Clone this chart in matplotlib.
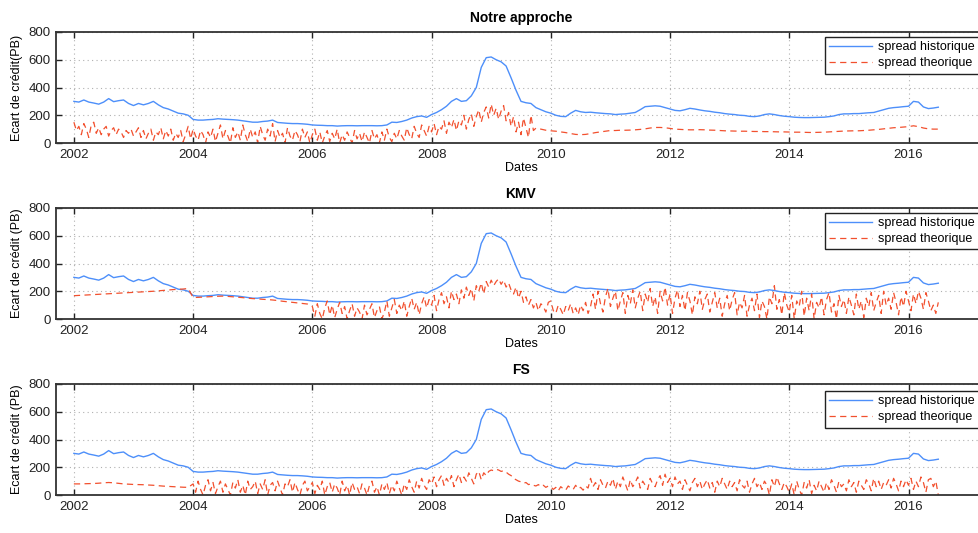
import numpy as np
import matplotlib
matplotlib.use("Agg")
import matplotlib.pyplot as plt

plt.rcParams['font.family'] = ['Liberation Sans', 'DejaVu Sans']

# historical spread, monthly from 2002.0 to 2016.5 (same in all panels)
hist = [300, 295, 310, 295, 288, 280, 295, 320, 298, 305, 310, 285,
        270, 285, 275, 285, 300, 275, 255, 245, 230, 215, 210, 200,
        170, 165, 165, 168, 170, 175, 172, 170, 168, 165, 160, 155,
        150, 150, 155, 158, 165, 148, 145, 142, 140, 140, 138, 135,
        130, 128, 127, 125, 125, 122, 124, 125, 125, 124, 125, 125,
        125, 124, 125, 130, 150, 148, 155, 165, 180, 190, 195, 185,
        205, 220, 240, 265, 300, 320, 300, 305, 340, 400, 545, 615,
        620, 600, 585, 555, 470, 380, 300, 290, 285, 255, 240, 225,
        215, 200, 192, 190, 215, 235, 225, 220, 222, 218, 215, 212,
        210, 205, 208, 210, 215, 220, 240, 262, 265, 268, 265, 255,
        245, 235, 232, 240, 250, 245, 238, 232, 228, 222, 218, 212,
        208, 205, 200, 198, 192, 190, 195, 205, 210, 205, 198, 193,
        190, 186, 184, 183, 183, 184, 185, 186, 190, 195, 205, 210,
        210, 212, 212, 215, 218, 220, 230, 240, 250, 255, 258, 262,
        265, 300, 295, 260, 248, 252, 258]

# Notre approche: semi-monthly noisy part from 2002.0, then monthly smooth part from 2009.75
notre_noisy = [150, 90, 120, 60, 140, 100, 40, 130, 150, 70, 110, 60, 100, 120, 50, 90, 110, 60, 100, 80, 40, 90, 70, 100,
               50, 80, 110, 40, 90, 30, 70, 100, 20, 80, 60, 110, 30, 90, 50, 100, 20, 70, 40, 90, 10, 60, 120, 30,
               100, 50, 20, 90, 60, 0, 80, 40, 100, 10, 70, 130, 30, 90, 50, 0, 110, 40, 80, 20, 130, 60, 10, 100,
               40, 80, 0, 120, 60, 20, 100, 50, 140, 10, 90, 40, 70, 0, 110, 50, 20, 90, 60, 10, 100, 40, 80, 0,
               60, 100, 20, 80, 0, 50, 90, 10, 70, 30, 100, 0, 60, 20, 80, 40, 0, 90, 30, 70, 10, 80, 40, 0,
               90, 30, 60, 0, 80, 20, 100, 40, 10, 70, 30, 90, 50, 20, 110, 60, 30, 120, 70, 40, 130, 90, 50, 120,
               80, 140, 60, 120, 100, 160, 70, 150, 110, 170, 90, 160, 130, 200, 100, 170, 210, 120, 190, 240, 150, 220, 260, 180,
               280, 200, 250, 170, 230, 270, 160, 220, 120, 190, 80, 150, 60, 180, 110, 40, 200, 90]
notre_smooth = [107, 100, 92,
                88, 85, 80, 75, 68, 62, 60, 62, 68, 75, 80, 85,
                90, 90, 92, 92, 93, 95, 98, 102, 108, 112, 112, 110,
                105, 100, 98, 96, 95, 95, 96, 95, 93, 92, 90, 88,
                87, 86, 85, 85, 84, 83, 83, 82, 82, 81, 80, 80,
                79, 78, 78, 77, 76, 76, 77, 78, 80, 82, 84, 86,
                87, 88, 88, 90, 92, 95, 98, 102, 106, 110, 112, 115,
                118, 124, 118, 108, 102, 100, 100]

# KMV: monthly smooth part 2002.0-2005.917, then semi-monthly noisy from 2006.0
kmv_smooth = [168, 170, 172, 174, 176, 178, 180, 182, 184, 186, 188, 190,
              192, 194, 196, 198, 200, 203, 206, 209, 212, 214, 216, 220,
              155, 156, 158, 160, 162, 164, 165, 163, 160, 157, 154, 150,
              147, 145, 142, 140, 137, 133, 128, 124, 120, 116, 112, 108]
kmv_noisy = [90, 20, 110, 40, 0, 80, 130, 30, 100, 10, 70, 120, 40, 90, 0, 60, 110, 20, 80, 50, 0, 100, 30, 70,
             110, 10, 60, 90, 0, 50, 130, 20, 80, 140, 40, 100, 60, 130, 20, 90, 150, 70, 120, 30, 110, 160, 80, 140,
             100, 170, 60, 140, 190, 110, 160, 80, 200, 140, 180, 110, 210, 150, 230, 170, 220, 130, 240, 200, 260, 180, 270, 230,
             280, 240, 270, 290, 250, 280, 230, 260, 210, 180, 230, 150, 200, 120, 160, 100, 140, 80, 120, 60, 110, 90, 50, 120,
             130, 60, 40, 100, 70, 30, 90, 60, 110, 40, 80, 30, 100, 60, 120, 40, 90, 180, 70, 200, 110, 50, 160, 220,
             90, 150, 200, 60, 130, 190, 40, 170, 110, 210, 80, 150, 200, 60, 180, 120, 220, 90, 160, 40, 200, 130, 230, 100,
             180, 40, 150, 210, 90, 170, 60, 190, 130, 30, 160, 110, 200, 70, 140, 180, 50, 120, 190, 80, 150, 20, 110, 170,
             60, 140, 190, 30, 120, 80, 170, 20, 100, 150, 60, 180, 10, 130, 90, 0, 160, 110, 240, 70, 140, 30, 190, 100,
             50, 170, 0, 130, 90, 200, 20, 150, 60, 180, 0, 120, 80, 160, 30, 140, 190, 50, 110, 0, 170, 90, 140, 40,
             160, 100, 30, 180, 70, 130, 10, 150, 90, 190, 60, 120, 170, 40, 200, 100, 150, 70, 190, 120, 30, 160, 90, 200,
             130, 60, 180, 110, 200, 150, 70, 190, 130, 60, 100, 40, 120]

# FS: monthly smooth part 2002.0-2003.917, then semi-monthly noisy from 2004.0
fs_smooth = [80, 80, 81, 82, 83, 85, 88, 90, 88, 84, 80, 78,
             76, 75, 74, 72, 70, 67, 64, 62, 60, 58, 56, 55]
fs_noisy = [80, 20, 100, 40, 0, 70, 110, 30, 90, 10, 60, 100, 20, 80, 40, 0, 90, 50, 110, 20, 70, 0, 100, 40,
            60, 100, 10, 80, 40, 110, 0, 70, 90, 30, 100, 50, 0, 80, 60, 110, 20, 90, 40, 0, 70, 100, 30, 60,
            90, 10, 70, 40, 100, 0, 60, 90, 20, 80, 50, 0, 100, 30, 70, 0, 90, 40, 60, 10, 80, 50, 0, 70,
            100, 20, 60, 0, 80, 40, 90, 10, 70, 30, 100, 50, 0, 80, 40, 110, 60, 20, 100, 50, 120, 70, 40, 110,
            80, 130, 60, 110, 140, 70, 120, 90, 140, 60, 110, 150, 90, 130, 100, 160, 120, 80, 150, 170, 110, 160, 140, 170,
            180, 175, 185, 180, 170, 175, 165, 150, 140, 120, 110, 100, 95, 85, 90, 75, 80, 70, 65, 75, 60, 70, 55, 65,
            60, 40, 55, 30, 60, 45, 35, 65, 50, 40, 70, 45, 55, 35, 65, 50, 120, 60, 90, 40, 110, 70, 50, 100,
            70, 120, 40, 100, 60, 130, 80, 30, 110, 60, 90, 130, 50, 100, 70, 40, 120, 80, 60, 110, 140, 70, 150, 90,
            120, 60, 130, 80, 100, 40, 110, 70, 30, 90, 120, 60, 100, 40, 80, 110, 50, 90, 20, 100, 60, 120, 80, 40,
            100, 60, 90, 30, 110, 70, 50, 100, 20, 80, 120, 60, 90, 40, 100, 70, 0, 110, 60, 130, 80, 40, 90, 60,
            20, 80, 0, 100, 40, 0, 90, 50, 110, 10, 70, 30, 100, 60, 20, 90, 40, 110, 70, 20, 100, 60, 80, 30,
            110, 60, 90, 20, 100, 70, 40, 110, 80, 30, 120, 60, 100, 40, 90, 70, 110, 50, 120, 80, 30, 100, 60, 110,
            70, 120, 40, 100, 60, 130, 90, 20, 110, 120, 60, 100, 0]

titles = ["Notre approche", "KMV", "FS"]
ylabels = ["Ecart de crédit(PB)", "Ecart de crédit (PB)", "Ecart de crédit (PB)"]

# time axes
t_hist = 2002 + np.arange(len(hist)) / 12
t_notre = np.concatenate([2002 + np.arange(len(notre_noisy)) / 24,
                          2009.75 + np.arange(len(notre_smooth)) / 12])
y_notre = notre_noisy + notre_smooth
t_kmv = np.concatenate([2002 + np.arange(len(kmv_smooth)) / 12,
                        2006 + np.arange(len(kmv_noisy)) / 24])
y_kmv = kmv_smooth + kmv_noisy
t_fs = np.concatenate([2002 + np.arange(len(fs_smooth)) / 12,
                       2004 + np.arange(len(fs_noisy)) / 24])
y_fs = fs_smooth + fs_noisy
theo = [(t_notre, y_notre), (t_kmv, y_kmv), (t_fs, y_fs)]

W, H = 979, 533
fig = plt.figure(figsize=(W / 100, H / 100), dpi=100)

blue = '#4d8ffa'
red = '#f2502e'
tops = [32, 208, 384]
leg_tops = [37, 213, 391]

for i in range(3):
    top = tops[i]
    ax = fig.add_axes([56 / W, 1 - (top + 111) / H, (986 - 56) / W, 111 / H])
    ax.plot(t_hist, hist, color=blue, lw=1.0, label='spread historique')
    ax.plot(theo[i][0], theo[i][1], color=red, lw=0.9, dashes=(5, 3.5), label='spread theorique')
    ax.set_xlim(2001.70, 2017.30)
    ax.set_ylim(0, 800)
    ax.set_xticks([2002, 2004, 2006, 2008, 2010, 2012, 2014, 2016])
    ax.set_yticks([0, 200, 400, 600, 800])
    ax.grid(True, linestyle=(0, (1, 3)), color='#b0b0b0', lw=0.8)
    ax.tick_params(direction='in', length=4, width=1, top=True, right=True,
                   labelsize=9.5, pad=4, colors='#222222')
    for s in ax.spines.values():
        s.set_linewidth(1.3)
        s.set_color('#333333')
    ax.set_title(titles[i], fontsize=10, fontweight='bold', pad=7)
    ax.set_xlabel('Dates', fontsize=9, labelpad=1)
    ax.set_ylabel(ylabels[i], fontsize=9, labelpad=4)
    leg = ax.legend(loc='upper right', bbox_to_anchor=(979 / W, 1 - leg_tops[i] / H),
                    bbox_transform=fig.transFigure, borderaxespad=0, fontsize=9,
                    fancybox=False, framealpha=1, edgecolor='#222222',
                    handlelength=3.4, labelspacing=0.3, borderpad=0.35, handletextpad=0.5)
    leg.get_frame().set_linewidth(1.0)

fig.savefig('out.png', dpi=100)
